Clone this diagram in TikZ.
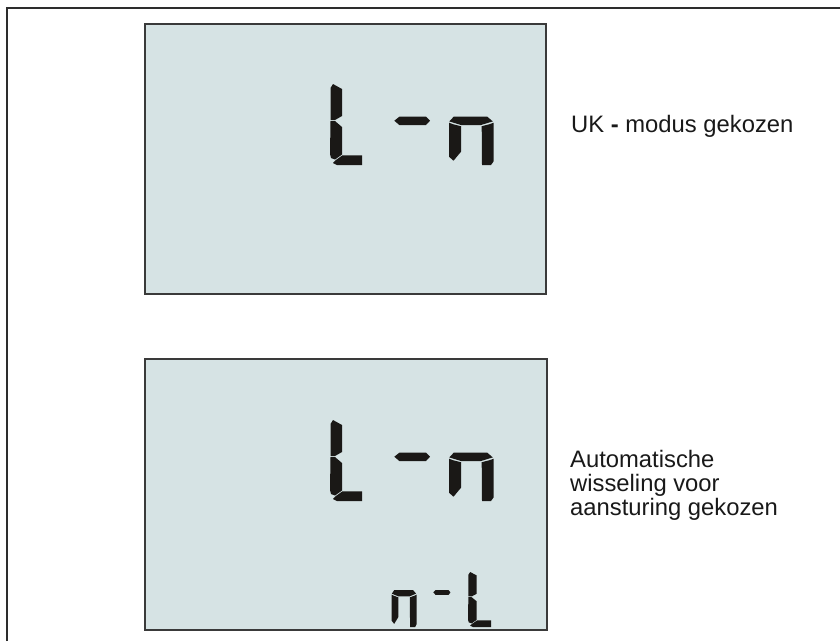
\documentclass[tikz,border=0pt]{standalone}
\usepackage{fontspec}
\setmainfont{Liberation Sans}
\definecolor{lcdfill}{RGB}{214,227,228}
\definecolor{lcdline}{RGB}{58,58,58}
\definecolor{segcol}{RGB}{26,24,22}
\definecolor{framecol}{RGB}{45,45,45}
\tikzset{
  seg/.style={fill=segcol,draw=none},
  lcdbox/.style={fill=lcdfill,draw=lcdline,line width=2pt},
  caption/.style={inner sep=0pt,font=\fontsize{23.8}{24}\selectfont,text=black!90,align=left},
  glyphL/.pic={
    \fill[seg] (3,0)--(12,5)--(12,32)--(5,36)--(0.5,36)--(0.5,4)--cycle;
    \fill[seg] (0.5,37)--(5,37)--(12,43)--(12,70.5)--(5,75.5)--(1,74)--(0,70)--cycle;
    \fill[seg] (5.5,76.3)--(12.5,71.3)--(32,71.3)--(32,81)--(7,81)--(3,79)--cycle;
  },
  glyphD/.pic={
    \fill[seg] (0,4)--(5,0)--(31.7,0)--(35.7,4)--(31.7,8.3)--(5,8.3)--cycle;
  },
  glyphN/.pic={
    \fill[seg] (0.3,4.7)--(4.7,0)--(38.3,0)--(43.8,4.7)--(32,8.3)--(12,8.3)--cycle;
    \fill[seg] (0,6)--(4,7.5)--(12,9.5)--(12,35)--(4.5,44)--(0,40)--cycle;
    \fill[seg] (32.7,9.5)--(40.5,7.5)--(44.7,6)--(44.7,44.5)--(42,48.3)--(33,48.3)--cycle;
  }
}
\begin{document}
\begin{tikzpicture}[x=1pt,y=-1pt]
\useasboundingbox (0,0) rectangle (840,641);
% outer frame
\draw[framecol,line width=2pt] (7,641) -- (7,7.5) -- (840,7.5);
% top display
\draw[lcdbox] (144.5,23.5) rectangle (546,293.5);
\pic at (330,84) {glyphL};
\pic at (394.3,116.7) {glyphD};
\pic at (449,116.7) {glyphN};
% bottom display
\draw[lcdbox] (144.5,358.5) rectangle (546.5,629.5);
\pic at (330,420) {glyphL};
\pic at (394.3,452.7) {glyphD};
\pic at (449,452.7) {glyphN};
\pic[xscale=0.556,yscale=0.77] at (391.7,590) {glyphN};
\pic[xscale=0.48,yscale=0.6] at (433.3,590) {glyphD};
\pic[xscale=0.72,yscale=0.68] at (468,572) {glyphL};
% captions
\node[caption,anchor=base west] (capA) at (571,132) {UK \textbf{-} modus gekozen};
\node[caption,anchor=base west] (capB) at (570,515.5) {Automatische\\wisseling voor\\aansturing gekozen};
\end{tikzpicture}
\end{document}
